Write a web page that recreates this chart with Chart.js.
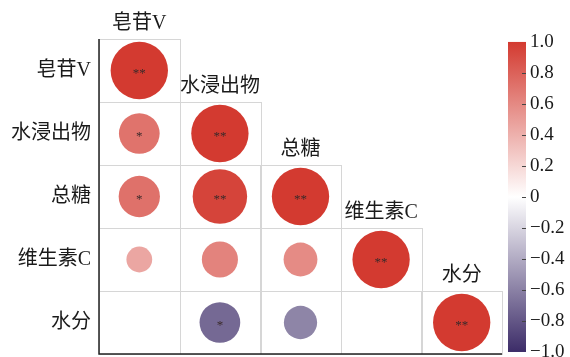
<!DOCTYPE html>
<html>
<head>
<meta charset="utf-8">
<script src="https://cdn.jsdelivr.net/npm/chart.js@4/dist/chart.umd.min.js"></script>
<style>
  html, body { margin: 0; padding: 0; background: #fff; }
  #wrap { width: 570px; height: 357px; }
</style>
</head>
<body>
<div id="wrap"><canvas id="corrChart"></canvas></div>
<script>
const vars = ['皂苷V', '水浸出物', '总糖', '维生素C', '水分'];

// lower triangle, row by row (row i holds columns 0..i)
const corrRows = [
  [1.00],
  [0.71, 1.00],
  [0.72, 0.95, 1.00],
  [0.45, 0.63, 0.59, 1.00],
  [0.00, -0.71, -0.58, 0.00, 1.00]
];
const sigRows = [
  ['**'],
  ['*', '**'],
  ['*', '**', '**'],
  ['', '', '', '**'],
  ['', '*', '', '', '**']
];

const cbTicks = [1.0, 0.8, 0.6, 0.4, 0.2, 0, -0.2, -0.4, -0.6, -0.8, -1.0];
const cbLabels = ['1.0', '0.8', '0.6', '0.4', '0.2', '0', '\u22120.2', '\u22120.4', '\u22120.6', '\u22120.8', '\u22121.0'];

const RED = [211, 58, 48];
const NAVY = [60, 44, 104];

function corrColor(v) {
  const end = v >= 0 ? RED : NAVY;
  const t = Math.min(1, Math.abs(v));
  const c = end.map(e => Math.round(255 + (e - 255) * t));
  return `rgb(${c[0]},${c[1]},${c[2]})`;
}

const points = [];
corrRows.forEach((row, i) => {
  row.forEach((v, j) => points.push({ x: j, y: i, v: v, sig: sigRows[i][j] }));
});

const serif = '"Liberation Serif", "Times New Roman", "Noto Sans CJK SC", serif';

function cellHeight(chart) {
  const y = chart.scales.y;
  return Math.abs(y.getPixelForValue(1) - y.getPixelForValue(0));
}

function noPad(s) {
  s.paddingTop = 0;
  s.paddingBottom = 0;
}

// cell grid, axis lines, top labels, stars and colour bar
const corrDecor = {
  id: 'corrDecor',
  beforeDatasetsDraw(chart) {
    const { ctx, scales: { x, y } } = chart;
    const hw = Math.abs(x.getPixelForValue(1) - x.getPixelForValue(0)) / 2;
    const hh = cellHeight(chart) / 2;
    ctx.save();
    ctx.strokeStyle = '#d6d6d6';
    ctx.lineWidth = 1;
    corrRows.forEach((row, i) => {
      row.forEach((v, j) => {
        const cx = x.getPixelForValue(j), cy = y.getPixelForValue(i);
        ctx.strokeRect(Math.round(cx - hw) + 0.5, Math.round(cy - hh) + 0.5,
          Math.round(2 * hw), Math.round(2 * hh));
      });
    });
    ctx.restore();
  },
  afterDatasetsDraw(chart) {
    const { ctx, scales: { x, y, cb } } = chart;
    const hh = cellHeight(chart) / 2;
    const left = x.getPixelForValue(-0.5);
    const right = x.getPixelForValue(vars.length - 0.5);
    const bottom = y.getPixelForValue(vars.length - 0.5);
    const top = y.getPixelForValue(-0.5);
    ctx.save();

    // axis lines
    ctx.strokeStyle = '#222';
    ctx.lineWidth = 1.5;
    ctx.beginPath();
    ctx.moveTo(left, top);
    ctx.lineTo(left, bottom);
    ctx.lineTo(right, bottom);
    ctx.stroke();

    // column labels above the diagonal
    ctx.fillStyle = '#1a1a1a';
    ctx.font = '20px ' + serif;
    ctx.textAlign = 'center';
    ctx.textBaseline = 'middle';
    vars.forEach((name, k) => {
      ctx.fillText(name, x.getPixelForValue(k), y.getPixelForValue(k) - hh - 15);
    });

    // significance stars
    ctx.fillStyle = '#3a2a2a';
    ctx.font = '13px ' + serif;
    points.forEach(p => {
      if (!p.sig) return;
      ctx.fillText(p.sig, x.getPixelForValue(p.x), y.getPixelForValue(p.y) + 3);
    });

    // colour bar
    const bx0 = right + 6, bx1 = right + 24;
    const yTop = cb.getPixelForValue(1), yBot = cb.getPixelForValue(-1);
    const g = ctx.createLinearGradient(0, yTop, 0, yBot);
    g.addColorStop(0, corrColor(1));
    g.addColorStop(0.25, corrColor(0.5));
    g.addColorStop(0.5, corrColor(0));
    g.addColorStop(0.75, corrColor(-0.5));
    g.addColorStop(1, corrColor(-1));
    ctx.fillStyle = g;
    ctx.fillRect(bx0, yTop, bx1 - bx0, yBot - yTop);
    ctx.strokeStyle = '#444';
    ctx.lineWidth = 1;
    cbTicks.forEach(t => {
      if (Math.abs(t) === 1) return;
      const py = Math.round(cb.getPixelForValue(t)) + 0.5;
      ctx.beginPath();
      ctx.moveTo(bx1 - 4, py);
      ctx.lineTo(bx1, py);
      ctx.stroke();
    });
    ctx.restore();
  }
};

new Chart(document.getElementById('corrChart'), {
  type: 'scatter',
  data: {
    datasets: [{
      data: points,
      pointBackgroundColor: c => corrColor(c.raw ? c.raw.v : 0),
      pointBorderWidth: 0,
      pointRadius: c => c.raw ? 0.455 * cellHeight(c.chart) * Math.abs(c.raw.v) : 0,
      pointHoverRadius: 0,
      clip: false
    }]
  },
  options: {
    responsive: true,
    maintainAspectRatio: false,
    animation: false,
    events: [],
    layout: { autoPadding: false, padding: { top: 39, bottom: 3, left: 0, right: 0 } },
    plugins: { legend: { display: false }, tooltip: { enabled: false } },
    scales: {
      x: {
        type: 'linear',
        display: false,
        min: -0.5,
        max: vars.length - 0.5
      },
      y: {
        type: 'linear',
        reverse: true,
        min: -0.5,
        max: vars.length - 0.5,
        afterBuildTicks: s => { s.ticks = vars.map((v, i) => ({ value: i })); },
        afterFit: s => { s.width = 99; noPad(s); },
        grid: { display: false, drawTicks: false },
        border: { display: false },
        ticks: {
          padding: 8,
          color: '#1a1a1a',
          font: { family: serif, size: 20 },
          callback: v => vars[v]
        }
      },
      cb: {
        type: 'linear',
        position: 'right',
        min: -1.013,
        max: 1.019,
        afterBuildTicks: s => { s.ticks = cbTicks.map(v => ({ value: v })); },
        afterFit: s => { s.width = 68; noPad(s); },
        grid: { display: false, drawTicks: false },
        border: { display: false },
        ticks: {
          padding: 28,
          color: '#1a1a1a',
          font: { family: serif, size: 19 },
          callback: (v, i) => cbLabels[i]
        }
      }
    }
  },
  plugins: [corrDecor]
});
</script>
</body>
</html>
